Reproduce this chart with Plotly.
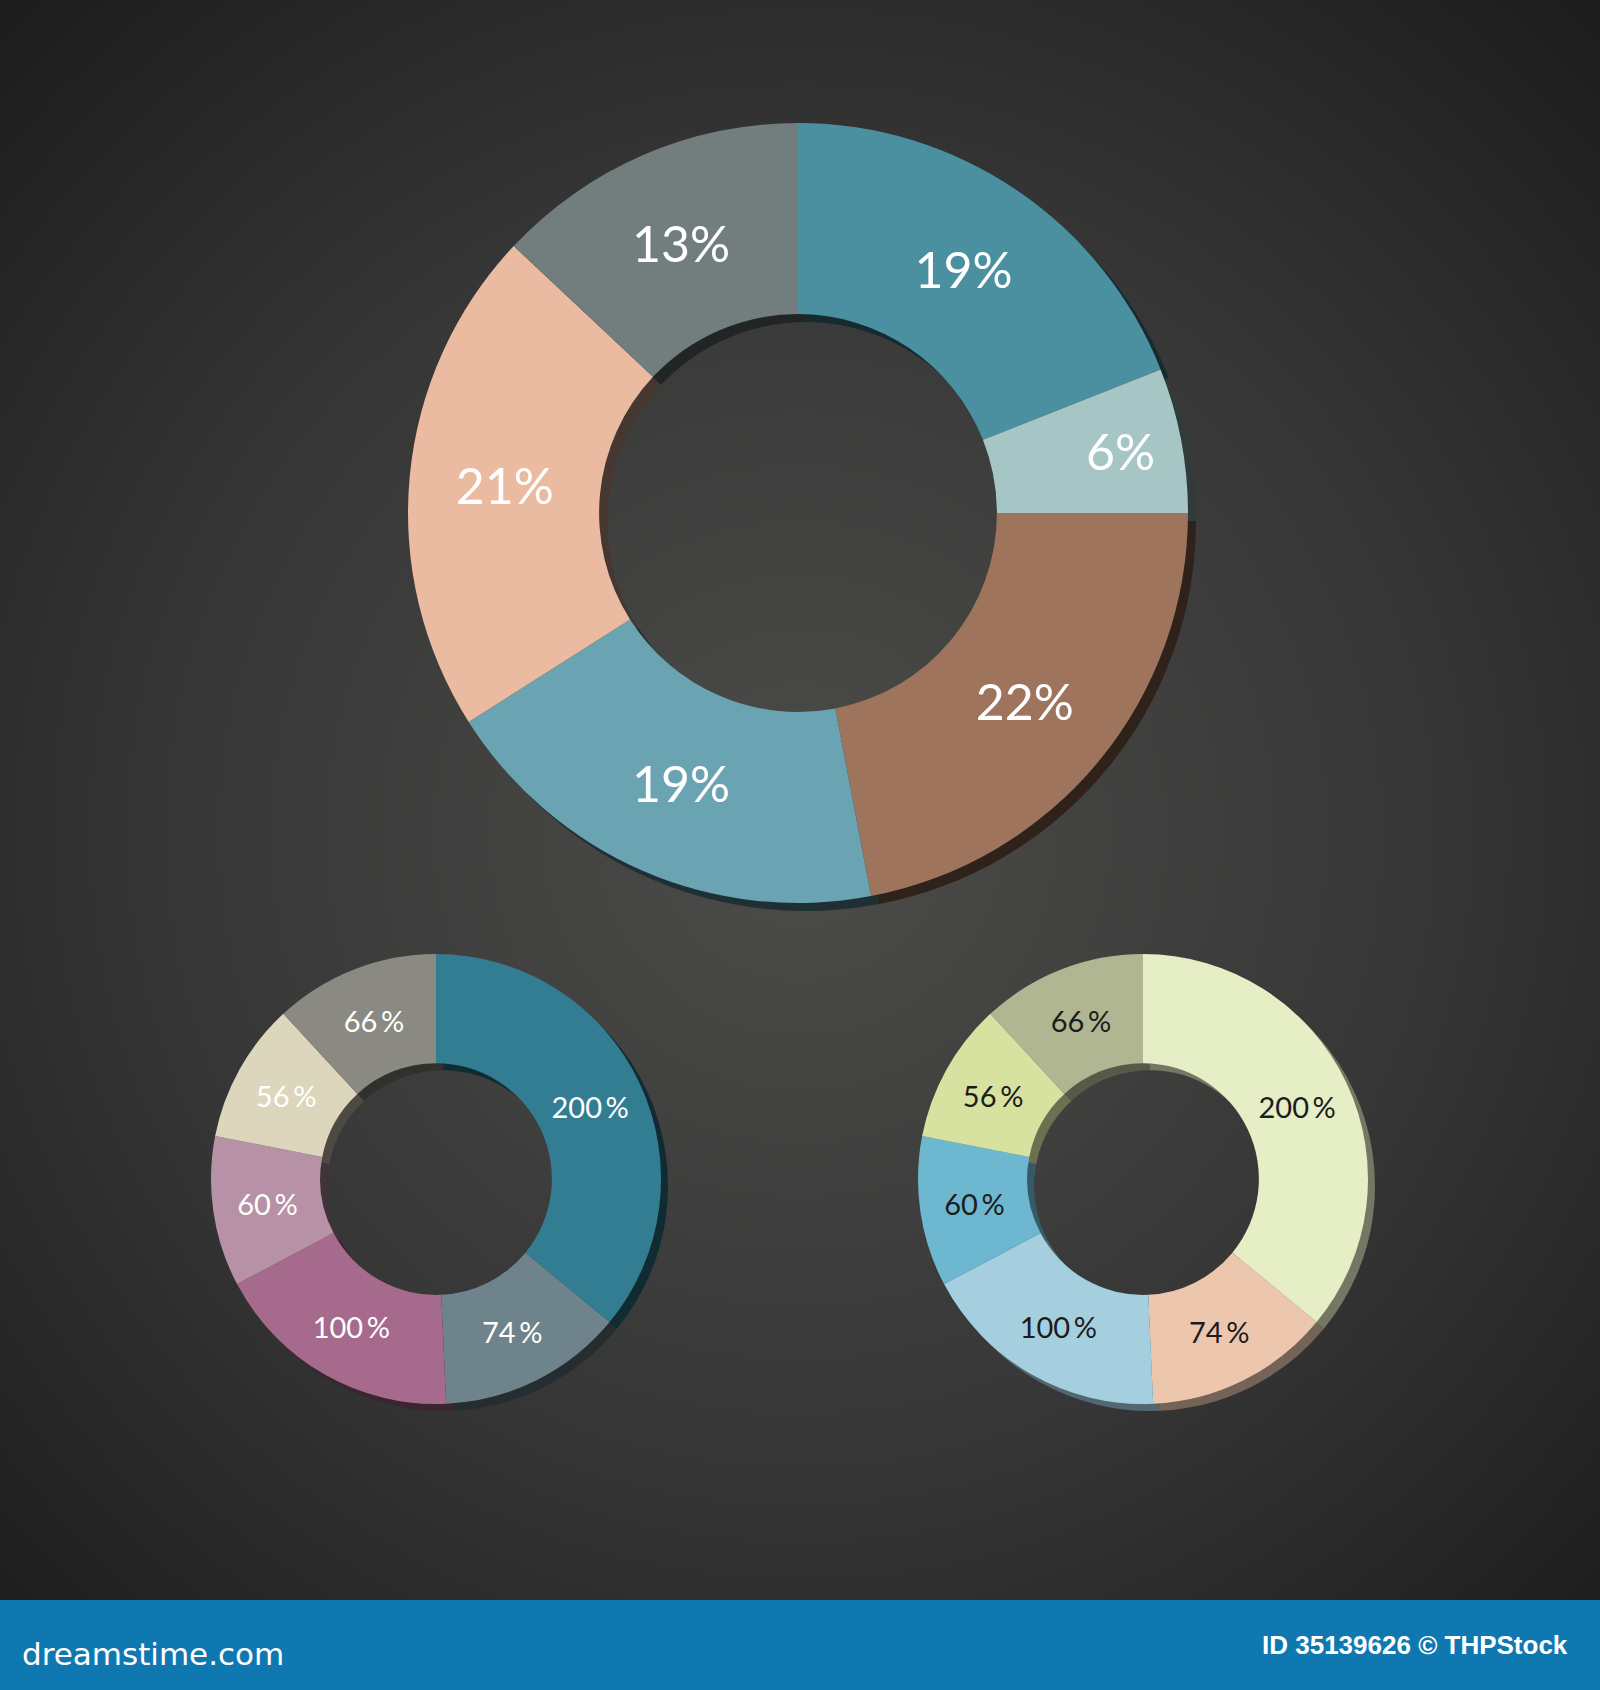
import base64
import plotly.graph_objects as go

W, H = 1600, 1690

# ---------------- data ----------------
big_labels = ["Segment A", "Segment B", "Segment C", "Segment D", "Segment E", "Segment F"]
big_values = [19, 6, 22, 19, 21, 13]
big_colors = ["#4a90a0", "#a5c6c4", "#9e745c", "#6aa3b2", "#ebbba1", "#727e7d"]

small_labels = ["Item 1", "Item 2", "Item 3", "Item 4", "Item 5", "Item 6"]
small_values = [200, 74, 100, 60, 56, 66]
left_colors = ["#337d93", "#6f838c", "#a66a8c", "#b792a6", "#dcd6bc", "#8a8a82"]
right_colors = ["#e6eec6", "#ecc7ae", "#a5cfdf", "#6db7d0", "#d7e2a0", "#b0b592"]

footer_left = "dreamstime.com"
footer_right = "ID 35139626 © THPStock"


def darken(hex_color, f):
    h = hex_color.lstrip("#")
    r, g, b = (int(h[i:i + 2], 16) for i in (0, 2, 4))
    return "rgb(%d,%d,%d)" % (r * f, g * f, b * f)


def domain(cx, cy, r):
    return dict(x=[(cx - r) / W, (cx + r) / W], y=[1 - (cy + r) / H, 1 - (cy - r) / H])


fig = go.Figure()


def donut(labels, values, colors, cx, cy, r, hole, text_color, font_size, shade, off, tmpl):
    # shadow
    fig.add_trace(go.Pie(
        labels=labels, values=values, sort=False, direction="clockwise", rotation=0,
        hole=hole, domain=domain(cx + off, cy + off, r),
        marker=dict(colors=[darken(c, shade) for c in colors], line=dict(width=0)),
        textinfo="none", hoverinfo="skip", showlegend=False,
    ))
    fig.add_trace(go.Pie(
        labels=labels, values=values, sort=False, direction="clockwise", rotation=0,
        hole=hole, domain=domain(cx, cy, r),
        marker=dict(colors=colors, line=dict(width=0)),
        texttemplate=tmpl, textposition="inside",
        insidetextorientation="horizontal",
        textfont=dict(family="Lato, 'Open Sans', sans-serif", size=font_size, color=text_color),
        showlegend=False,
    ))


donut(big_labels, big_values, big_colors, 798, 513, 390, 0.51, "white", 50, 0.3, 8,
      "%{value}%")
donut(small_labels, small_values, left_colors, 436, 1179, 225, 0.515, "white", 29, 0.35, 7,
      "%{value}\u2009%")
donut(small_labels, small_values, right_colors, 1143, 1179, 225, 0.515, "#1c1c1c", 29, 0.5, 7,
      "%{value}\u2009%")

# radial gradient background
svg = (
    '<svg xmlns="http://www.w3.org/2000/svg" width="1600" height="1600" viewBox="0 0 1600 1600">'
    '<defs><radialGradient id="g" cx="50%" cy="52%" r="72%">'
    '<stop offset="0" stop-color="#4c4c4a"/><stop offset="0.55" stop-color="#363636"/>'
    '<stop offset="1" stop-color="#1c1c1c"/></radialGradient></defs>'
    '<rect width="1600" height="1600" fill="url(#g)"/></svg>'
)
src = "data:image/svg+xml;base64," + base64.b64encode(svg.encode()).decode()

fig.update_layout(
    width=W, height=H, margin=dict(l=0, r=0, t=0, b=0),
    paper_bgcolor="#2a2a2a", plot_bgcolor="#2a2a2a",
    showlegend=False,
    images=[dict(source=src, xref="paper", yref="paper", x=0, y=1, sizex=1, sizey=1600 / H,
                 xanchor="left", yanchor="top", sizing="stretch", layer="below")],
    shapes=[dict(type="rect", xref="paper", yref="paper", x0=0, x1=1, y0=0, y1=90 / H,
                 fillcolor="#1078b0", line=dict(width=0), layer="above")],
    annotations=[
        dict(text=footer_left, xref="paper", yref="paper", x=20 / W, y=(H - 1654) / H,
             xanchor="left", yanchor="middle", showarrow=False,
             font=dict(family="'DejaVu Sans', sans-serif", size=31, color="white")),
        dict(text="<b>" + footer_right + "</b>", xref="paper", yref="paper", x=1570 / W,
             y=(H - 1645) / H, xanchor="right", yanchor="middle", showarrow=False,
             font=dict(family="'Liberation Sans Narrow', 'Arial Narrow', sans-serif", size=26,
                       color="white")),
    ],
)

fig.write_html("out.html")
